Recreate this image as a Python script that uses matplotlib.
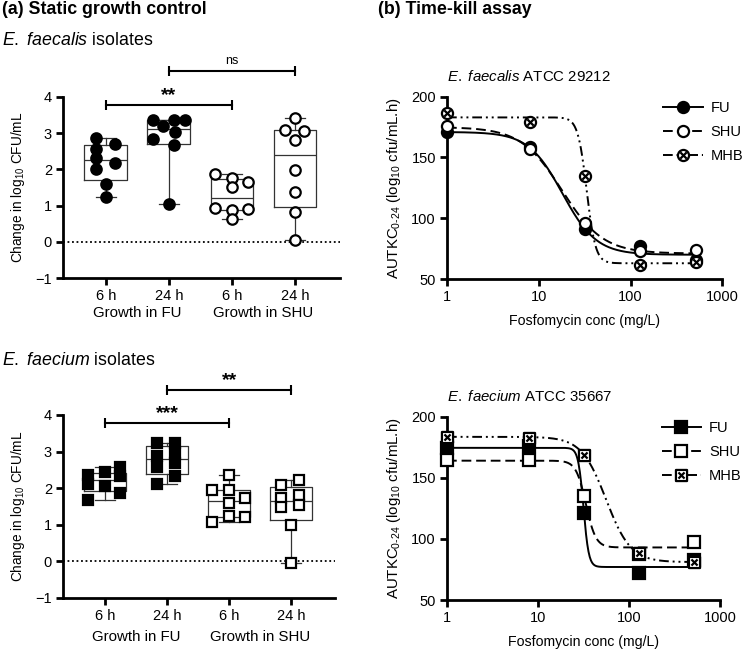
import numpy as np
import matplotlib.pyplot as plt
from matplotlib.path import Path
from matplotlib.lines import Line2D

plt.rcParams['font.family'] = ['Liberation Sans', 'DejaVu Sans']
plt.rcParams['mathtext.fontset'] = 'custom'
plt.rcParams['mathtext.rm'] = 'Liberation Sans'
plt.rcParams['mathtext.it'] = 'Liberation Sans:italic'
plt.rcParams['mathtext.bf'] = 'Liberation Sans:bold'
plt.rcParams['mathtext.default'] = 'regular'

# (a) static growth control: change in log10 CFU/mL, 8 isolates per group
groups = ["6 h", "24 h", "6 h", "24 h"]
media = ["Growth in FU", "Growth in SHU"]

faecalis_fu_6 = [2.87, 2.71, 2.55, 2.32, 2.18, 2.00, 1.61, 1.24]
faecalis_fu_24 = [3.37, 3.37, 3.37, 3.20, 3.03, 2.83, 2.66, 1.04]
faecalis_shu_6 = [1.87, 1.76, 1.64, 1.50, 0.93, 0.90, 0.88, 0.63]
faecalis_shu_24 = [3.42, 3.10, 3.05, 2.80, 1.98, 1.38, 0.82, 0.06]

faecium_fu_6 = [2.57, 2.44, 2.36, 2.32, 2.12, 2.07, 1.87, 1.68]
faecium_fu_24 = [3.23, 3.23, 2.95, 2.89, 2.68, 2.59, 2.32, 2.12]
faecium_shu_6 = [2.35, 1.96, 1.96, 1.73, 1.59, 1.23, 1.21, 1.07]
faecium_shu_24 = [2.23, 2.10, 1.80, 1.74, 1.55, 1.48, 1.00, -0.05]

# horizontal scatter of the dots (layout only)
faecalis_jit = [[-0.15, 0.14, -0.15, -0.15, 0.14, -0.15, 0, 0],
                [-0.25, 0.08, 0.25, -0.09, 0.1, -0.25, 0.08, 0],
                [-0.27, 0, 0.26, 0, -0.27, 0.26, 0, 0],
                [0, -0.16, 0.14, 0, 0, 0, 0, 0]]
faecium_jit = [[0.24, 0, -0.28, 0.24, -0.28, 0, 0.24, -0.28],
               [-0.16, 0.13, 0.13, -0.16, 0.13, -0.16, 0.13, -0.16],
               [0, -0.28, 0, 0.25, 0, 0, 0.25, -0.28],
               [0.13, -0.16, 0.13, -0.16, 0.13, -0.16, 0, 0]]

# (b) time-kill assay: AUTKC0-24 vs fosfomycin concentration
conc = [1, 8, 32, 128, 512]
faecalis_fu = [171.3, 159.0, 91.0, 77.4, 65.3]
faecalis_shu = [175.9, 156.8, 96.5, 72.7, 73.5]
faecalis_mhb = [186.4, 179.5, 134.9, 61.7, 64.0]
faecium_fu = [174.1, 176.3, 121.0, 71.8, 82.7]
faecium_shu = [164.6, 164.6, 135.4, 87.5, 97.2]
faecium_mhb = [183.6, 182.8, 168.7, 88.2, 81.0]

# fitted sigmoid (top, bottom, EC50, Hill slope)
faecalis_fit = {"FU": (171, 70, 18.1, 2.34), "SHU": (175, 71, 17.9, 1.94),
                "MHB": (183, 63, 33.3, 9.0)}
faecium_fit = {"FU": (174.5, 77, 31.6, 15.0), "SHU": (164, 93, 33.6, 8.0),
               "MHB": (183.5, 81, 56.0, 3.2)}


def x_marker(base):
    # outline marker with an X drawn inside it
    verts = list(base.vertices) + [(-0.55, -0.55), (0.55, 0.55), (-0.55, 0.55), (0.55, -0.55)]
    codes = list(base.codes) + [Path.MOVETO, Path.LINETO, Path.MOVETO, Path.LINETO]
    return Path(verts, codes)


circ = Path.unit_circle()
sq = Path([(-1, -1), (1, -1), (1, 1), (-1, 1), (-1, -1)],
          [Path.MOVETO, Path.LINETO, Path.LINETO, Path.LINETO, Path.CLOSEPOLY])
circ_x = x_marker(circ)
sq_x = x_marker(sq)


def style_axes(ax):
    for s in ["top", "right"]:
        ax.spines[s].set_visible(False)
    for s in ["left", "bottom"]:
        ax.spines[s].set_linewidth(2)
    ax.tick_params(width=2, length=5, labelsize=10.5, pad=3)


def bracket(ax, x1, x2, y, label, dy, size, weight):
    ax.plot([x1, x2], [y, y], color="k", lw=1.5, clip_on=False)
    ax.plot([x1, x2], [y, y], ls="none", marker="|", ms=7, mew=1.5, color="k", clip_on=False)
    ax.text((x1 + x2) / 2, y + dy, label, ha="center", va="bottom", fontsize=size,
            fontweight=weight, clip_on=False)


def growth_panel(ax, data, jit, marker, brackets, media_off):
    stats = []
    for vals in data:
        v = np.array(vals)
        q1, med, q3 = np.percentile(v, [25, 50, 75], method="weibull")
        stats.append(dict(med=med, q1=q1, q3=q3, whislo=v.min(), whishi=v.max(), fliers=[]))
    lp = dict(color="#333333", lw=0.9)
    ax.bxp(stats, positions=range(4), widths=0.68, capwidths=0.32, boxprops=lp,
           whiskerprops=lp, capprops=lp, medianprops=lp, showfliers=False)
    for i, vals in enumerate(data):
        fc = "black" if i < 2 else "white"
        ax.plot(np.array(jit[i]) + i, vals, ls="none", marker=marker, ms=7.5,
                mfc=fc, mec="black", mew=1.6, zorder=3, clip_on=False)
    ax.axhline(0, color="black", lw=1.3, ls=(0, (1, 1.5)), zorder=1)
    ax.set_xlim(-0.68, 3.71)
    ax.set_ylim(-1, 4)
    ax.set_yticks(range(-1, 5))
    ax.set_xticks(range(4))
    ax.set_xticklabels(groups)
    ax.set_ylabel("Change in log$_{10}$ CFU/mL", fontsize=9.8, labelpad=6)
    style_axes(ax)
    for k, m in enumerate(media):
        ax.annotate(m, xy=(2 * k + 0.5, 0), xycoords=("data", "axes fraction"),
                    xytext=(0, media_off), textcoords="offset points",
                    ha="center", va="center", fontsize=10.8)
    for b in brackets:
        bracket(ax, *b)


def sigmoid(x, p):
    top, bottom, ec50, hill = p
    return bottom + (top - bottom) / (1 + (x / ec50) ** hill)


def kill_panel(ax, title, series, fits, markers):
    xs = np.logspace(0, np.log10(512), 400)
    styles = {"FU": "-", "SHU": (0, (5, 2.5)), "MHB": (0, (5, 2, 1, 2, 1, 2))}
    handles = []
    for (name, vals), mk in zip(series, markers):
        ax.plot(xs, sigmoid(xs, fits[name]), color="black", lw=1.4, ls=styles[name])
        fc = "black" if name == "FU" else "white"
        ax.plot(conc, vals, ls="none", marker=mk, ms=8, mfc=fc, mec="black", mew=1.6,
                zorder=3, clip_on=False)
        handles.append(Line2D([], [], color="black", lw=1.4, ls=styles[name], marker=mk,
                              ms=8, mfc=fc, mec="black", mew=1.6, label=name))
    ax.set_xscale("log")
    ax.set_xlim(1, 1000)
    ax.set_ylim(50, 200)
    ax.set_yticks([50, 100, 150, 200])
    ax.set_xticks([1, 10, 100, 1000])
    ax.set_xticklabels(["1", "10", "100", "1000"])
    ax.minorticks_off()
    style_axes(ax)
    ax.set_xlabel("Fosfomycin conc (mg/L)", fontsize=10.2, labelpad=7)
    ax.set_ylabel("AUTKC$_{0\\text{-}24}$ (log$_{10}$ cfu/mL.h)", fontsize=10.8, labelpad=6)
    ax.set_title(title, loc="left", fontsize=10.8, pad=11)
    ax.legend(handles=handles, loc="upper left", bbox_to_anchor=(0.765, 1.01), frameon=False,
              handlelength=2.7, fontsize=10.5, labelspacing=0.7, borderaxespad=0,
              handletextpad=0.55)


fig = plt.figure(figsize=(7.5, 6.49), dpi=100)
ax1 = fig.add_axes([0.084, 0.5716, 0.369, 0.279])
ax2 = fig.add_axes([0.084, 0.0786, 0.363, 0.282])
ax3 = fig.add_axes([0.596, 0.570, 0.367, 0.281])
ax4 = fig.add_axes([0.596, 0.0755, 0.364, 0.2825])

growth_panel(ax1, [faecalis_fu_6, faecalis_fu_24, faecalis_shu_6, faecalis_shu_24],
             faecalis_jit, "o",
             [(0, 2, 3.79, "**", 0.02, 14, "bold"), (1, 3, 4.71, "ns", 0.12, 9, "normal")], -25)
growth_panel(ax2, [faecium_fu_6, faecium_fu_24, faecium_shu_6, faecium_shu_24],
             faecium_jit, "s",
             [(0, 2, 3.78, "***", 0.02, 14, "bold"), (1, 3, 4.69, "**", 0.02, 14, "bold")], -28)

kill_panel(ax3, "$\\it{E.\\ faecalis}$ ATCC 29212",
           [("FU", faecalis_fu), ("SHU", faecalis_shu), ("MHB", faecalis_mhb)],
           faecalis_fit, ["o", "o", circ_x])
kill_panel(ax4, "$\\it{E.\\ faecium}$ ATCC 35667",
           [("FU", faecium_fu), ("SHU", faecium_shu), ("MHB", faecium_mhb)],
           faecium_fit, ["s", "s", sq_x])

fig.text(0.003, 0.978, "(a) Static growth control", fontsize=12.8, fontweight="bold")
fig.text(0.504, 0.978, "(b) Time-kill assay", fontsize=12.8, fontweight="bold")
fig.text(0.003, 0.9307, "$\\it{E.\\ faecalis}$ isolates", fontsize=12.8)
fig.text(0.003, 0.4376, "$\\it{E.\\ faecium}$ isolates", fontsize=12.8)

fig.savefig("out.png", dpi=100)
